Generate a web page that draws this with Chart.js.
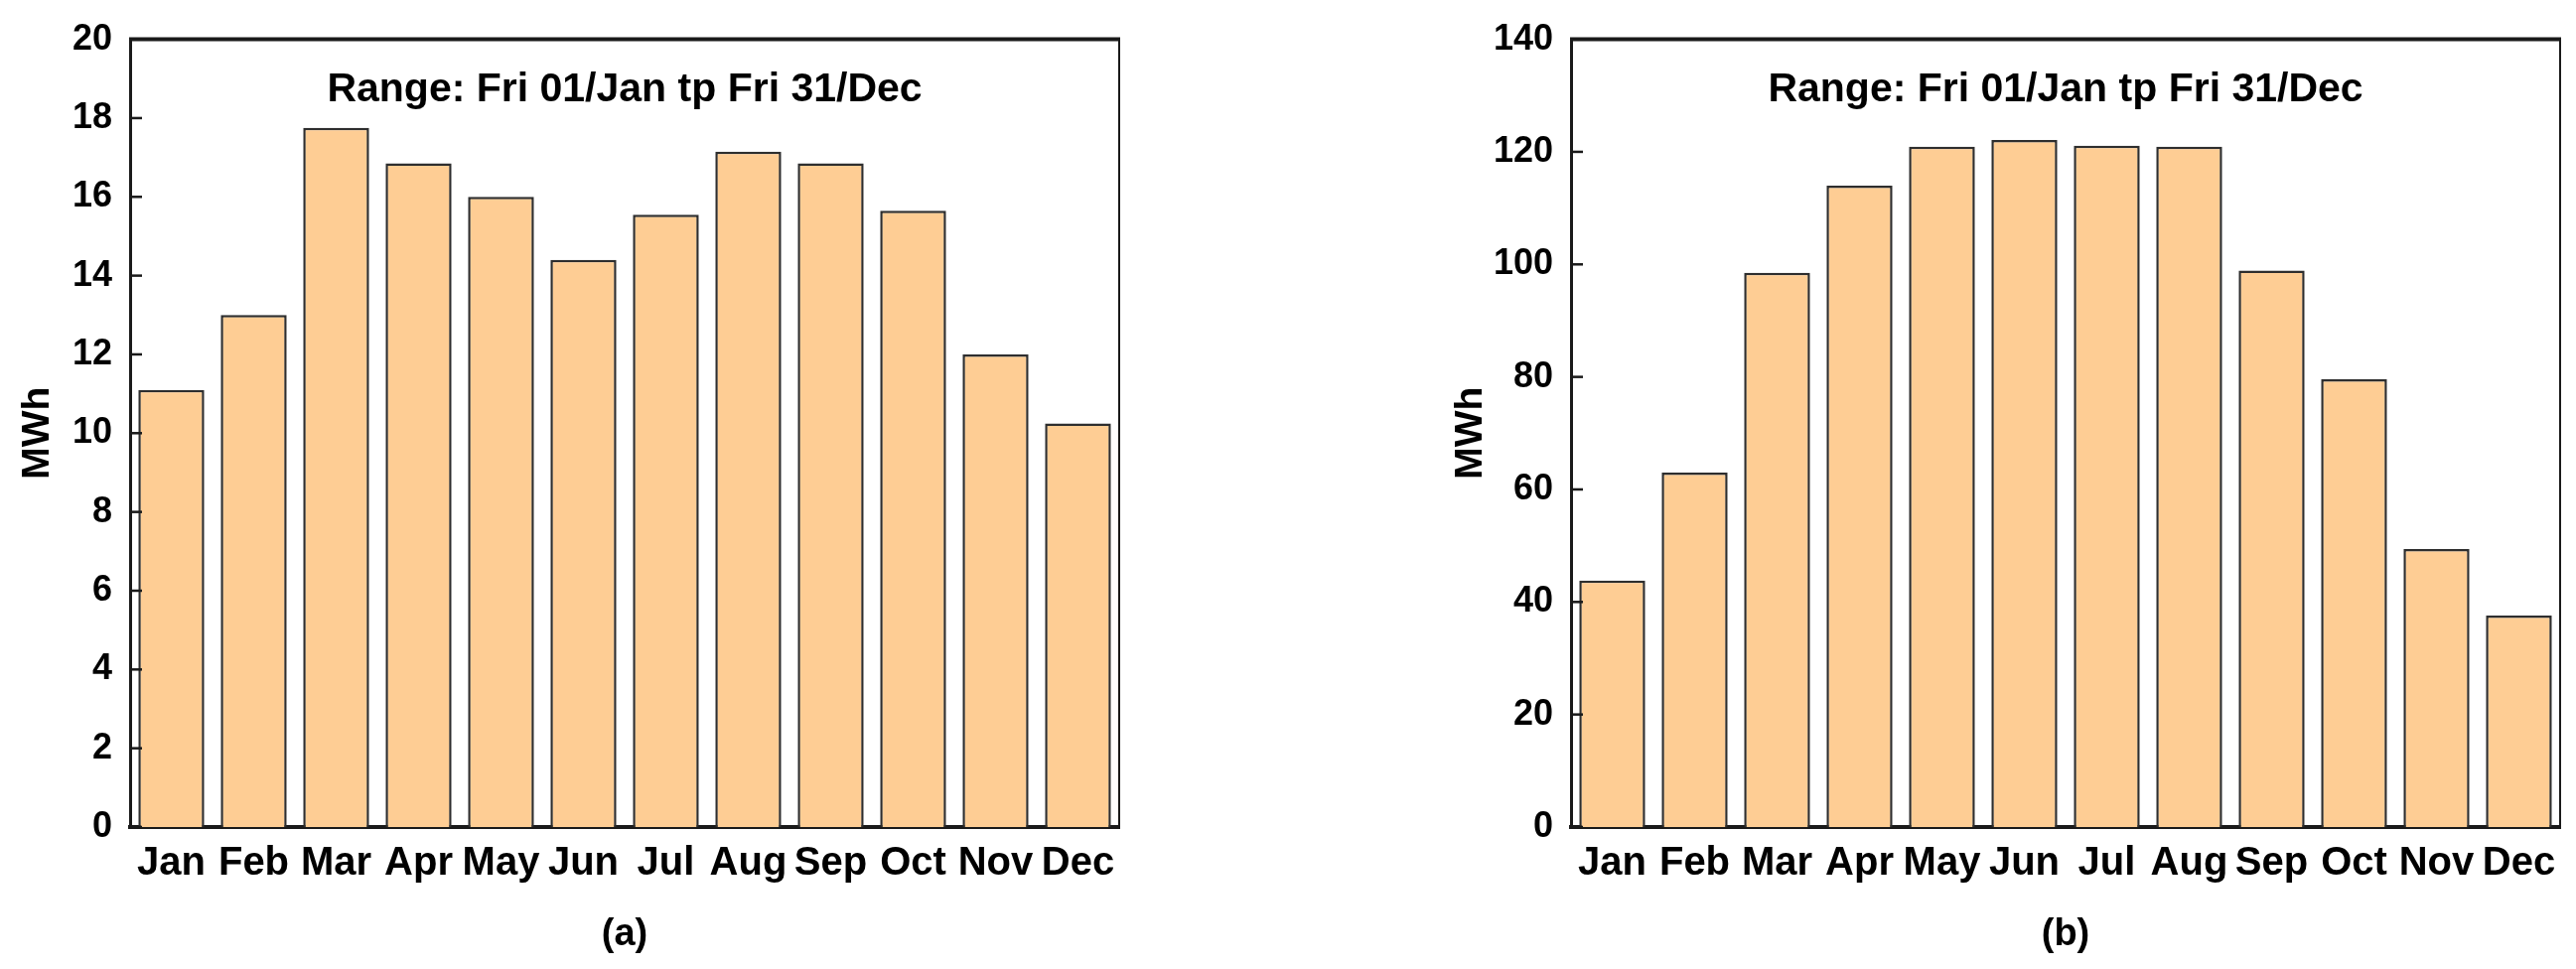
<!DOCTYPE html>
<html>
<head>
<meta charset="utf-8">
<script src="https://cdn.jsdelivr.net/npm/chart.js@4/dist/chart.umd.min.js"></script>
<style>
  html, body { margin: 0; padding: 0; background: #fff; }
  body { width: 2594px; height: 976px; position: relative; overflow: hidden; }
  .panel { position: absolute; top: 0; height: 976px; }
</style>
</head>
<body>
<div class="panel" style="left:0;width:1160px"><canvas id="chartA" width="1160" height="976"></canvas></div>
<div class="panel" style="left:1400px;width:1194px"><canvas id="chartB" width="1194" height="976"></canvas></div>
<script>
const months = ["Jan", "Feb", "Mar", "Apr", "May", "Jun", "Jul", "Aug", "Sep", "Oct", "Nov", "Dec"];
const valuesA = [11.1, 13.0, 17.75, 16.85, 16.0, 14.4, 15.55, 17.15, 16.85, 15.65, 12.0, 10.25];
const valuesB = [43.8, 63.0, 98.5, 114.0, 120.9, 122.1, 121.1, 120.9, 98.9, 79.6, 49.4, 37.6];
const rangeText = "Range: Fri 01/Jan tp Fri 31/Dec";
const FONT = "'Liberation Sans', Arial, Helvetica, sans-serif";
const BAR_FILL = "#FECD94";

// frame (top/right lines), inward y ticks and the range label inside the plot
const framePlugin = {
  id: "frame",
  afterDatasetsDraw(chart) {
    const { ctx, chartArea: a, scales } = chart;
    ctx.save();
    ctx.strokeStyle = "#1a1a1a";
    ctx.lineWidth = 4;
    ctx.beginPath();
    ctx.moveTo(a.left - 1, a.top);
    ctx.lineTo(a.right + 1, a.top);
    ctx.stroke();
    ctx.lineWidth = 2;
    ctx.beginPath();
    ctx.moveTo(a.right, a.top);
    ctx.lineTo(a.right, a.bottom);
    ctx.stroke();

    ctx.lineWidth = 2.5;
    scales.y.ticks.forEach((t) => {
      const y = scales.y.getPixelForValue(t.value);
      ctx.beginPath();
      ctx.moveTo(a.left, y);
      ctx.lineTo(a.left + 12, y);
      ctx.stroke();
    });

    ctx.fillStyle = "#000";
    ctx.font = `bold 41px ${FONT}`;
    ctx.textAlign = "center";
    ctx.textBaseline = "alphabetic";
    ctx.fillText(rangeText, (a.left + a.right) / 2, a.top + 62);
    ctx.restore();
  },
};

function makeChart(id, values, yMax, yStep, yWidth, titlePad, rightPad, letter) {
  return new Chart(document.getElementById(id), {
    type: "bar",
    data: {
      labels: months,
      datasets: [{
        data: values,
        backgroundColor: BAR_FILL,
        borderColor: "#2e2e2e",
        borderWidth: 2.5,
        barPercentage: 0.8,
        categoryPercentage: 1.0,
      }],
    },
    options: {
      responsive: false,
      animation: false,
      layout: { padding: { top: 34, right: rightPad, bottom: 0, left: 0 } },
      plugins: { legend: { display: false }, tooltip: { enabled: false } },
      scales: {
        x: {
          grid: { display: false, drawTicks: false },
          border: { display: true, color: "#1a1a1a", width: 4 },
          ticks: { color: "#000", padding: 13, font: { family: FONT, size: 40, weight: "bold" }, maxRotation: 0, autoSkip: false },
          title: { display: true, text: letter, color: "#000", padding: { top: 0, bottom: 15 }, font: { family: FONT, size: 38, weight: "bold", lineHeight: 1 } },
          afterFit: (s) => { s.height = 143; },
        },
        y: {
          min: 0,
          max: yMax,
          grid: { display: false, drawTicks: false },
          border: { display: true, color: "#1a1a1a", width: 3 },
          ticks: { stepSize: yStep, color: "#000", padding: 18, font: { family: FONT, size: 36, weight: "bold" } },
          title: { display: true, text: "MWh", color: "#000", padding: { top: titlePad, bottom: 0 }, font: { family: FONT, size: 39, weight: "bold", lineHeight: 1 } },
          afterFit: (s) => { s.width = yWidth; },
        },
      },
    },
    plugins: [framePlugin],
  });
}

makeChart("chartA", valuesA, 20, 2, 131, 19, 33, "(a)");
makeChart("chartB", valuesB, 140, 20, 182, 62, 16, "(b)");
</script>
</body>
</html>
